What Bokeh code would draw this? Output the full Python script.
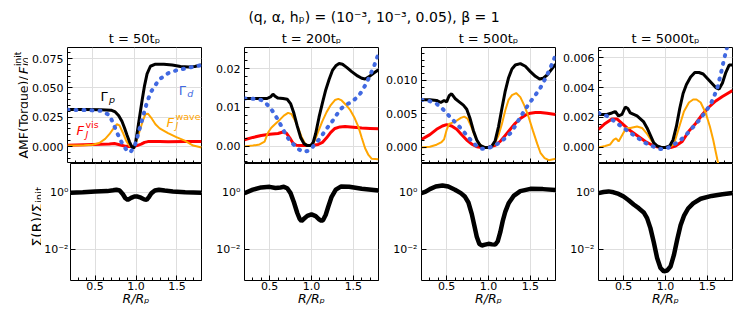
import numpy as np
from bokeh.plotting import figure
from bokeh.models import (Range1d, Label, SingleIntervalTicker, FixedTicker,
                          NumeralTickFormatter, CustomJSTickFormatter)
from bokeh.layouts import column, row
from bokeh.embed import file_html
from bokeh.resources import INLINE

FONT = "DejaVu Sans"

# ---------------- data ----------------
suptitle = "(q, \u03b1, h\u209a) = (10\u207b\u00b3, 10\u207b\u00b3, 0.05), \u03b2 = 1"
panel_titles = ["t = 50t\u209a", "t = 200t\u209a", "t = 500t\u209a", "t = 5000t\u209a"]
x_label = "R/R\u209a"

# panel 1 (t = 50 tp)
gp1_x = [0.2, 0.4, 0.6, 0.72, 0.77, 0.81, 0.85, 0.88, 0.91, 0.94, 0.97, 0.99, 1.01, 1.03, 1.06, 1.09, 1.12, 1.15, 1.19, 1.25, 1.35, 1.45, 1.55, 1.65, 1.72, 1.8]
gp1_y = [0.0315, 0.0315, 0.0313, 0.031, 0.0295, 0.0265, 0.0215, 0.016, 0.0098, 0.004, -0.0005, -0.0015, 0.002, 0.011, 0.025, 0.039, 0.052, 0.062, 0.0685, 0.0703, 0.0703, 0.0695, 0.0683, 0.0678, 0.0683, 0.0697]
gd1_x = [0.2, 0.45, 0.6, 0.65, 0.7, 0.75, 0.8, 0.85, 0.9, 0.93, 0.96, 1.0, 1.03, 1.06, 1.09, 1.15, 1.2, 1.25, 1.3, 1.4, 1.5, 1.6, 1.7, 1.8]
gd1_y = [0.0313, 0.031, 0.0305, 0.0285, 0.027, 0.019, 0.0105, 0.003, -0.0025, -0.005, -0.004, 0.0, 0.007, 0.015, 0.0225, 0.038, 0.047, 0.0525, 0.0575, 0.0625, 0.065, 0.0665, 0.068, 0.0695]
fw1_x = [0.2, 0.4, 0.5, 0.58, 0.65, 0.7, 0.75, 0.79, 0.82, 0.86, 0.9, 0.94, 0.98, 1.02, 1.06, 1.1, 1.13, 1.16, 1.2, 1.25, 1.3, 1.4, 1.5, 1.6, 1.7, 1.8]
fw1_y = [0.0008, 0.001, 0.0015, 0.003, 0.0065, 0.0105, 0.0155, 0.019, 0.018, 0.012, 0.005, 0.0005, -0.0005, 0.004, 0.013, 0.022, 0.0275, 0.028, 0.0245, 0.019, 0.0155, 0.0115, 0.008, 0.005, 0.0008, -0.0008]
fv1_x = [0.2, 0.4, 0.6, 0.7, 0.76, 0.82, 0.88, 0.93, 0.98, 1.03, 1.08, 1.12, 1.16, 1.2, 1.3, 1.4, 1.6, 1.8]
fv1_y = [0.001, 0.0015, 0.002, 0.0022, 0.0025, 0.0015, 0.0005, 0.0, 0.0, 0.0008, 0.002, 0.0035, 0.0042, 0.0043, 0.0042, 0.0041, 0.0042, 0.0043]

# panel 2 (t = 200 tp)
gp2_x = [0.2, 0.35, 0.47, 0.51, 0.54, 0.57, 0.6, 0.66, 0.71, 0.75, 0.79, 0.83, 0.87, 0.91, 0.95, 0.99, 1.02, 1.05, 1.09, 1.13, 1.17, 1.21, 1.25, 1.29, 1.33, 1.37, 1.42, 1.48, 1.55, 1.6, 1.64, 1.68, 1.74, 1.8]
gp2_y = [0.0123, 0.0123, 0.0123, 0.0127, 0.0134, 0.0128, 0.0124, 0.0123, 0.0121, 0.011, 0.0085, 0.0052, 0.0023, 0.0007, 0.0002, 0.0002, 0.001, 0.0033, 0.0075, 0.0111, 0.0145, 0.0172, 0.0195, 0.0207, 0.0213, 0.0211, 0.0203, 0.0192, 0.0181, 0.0175, 0.0173, 0.0178, 0.0188, 0.0197]
gd2_x = [0.2, 0.33, 0.4, 0.45, 0.5, 0.55, 0.6, 0.65, 0.7, 0.75, 0.8, 0.85, 0.9, 0.95, 1.0, 1.05, 1.1, 1.15, 1.2, 1.25, 1.3, 1.35, 1.4, 1.45, 1.5, 1.55, 1.6, 1.65, 1.7, 1.75, 1.8]
gd2_y = [0.0123, 0.0122, 0.0119, 0.0112, 0.0101, 0.0086, 0.0068, 0.0048, 0.0027, 0.0012, 0.0002, -0.0008, -0.0014, -0.0012, -0.0005, 0.0008, 0.002, 0.0036, 0.0051, 0.0065, 0.0081, 0.0096, 0.0106, 0.0111, 0.0118, 0.0127, 0.0141, 0.016, 0.0183, 0.0208, 0.0238]
fw2_x = [0.2, 0.3, 0.38, 0.44, 0.48, 0.52, 0.57, 0.62, 0.67, 0.72, 0.76, 0.8, 0.84, 0.88, 0.92, 0.96, 1.0, 1.04, 1.08, 1.13, 1.18, 1.23, 1.28, 1.32, 1.36, 1.41, 1.46, 1.51, 1.56, 1.6, 1.64, 1.68, 1.72, 1.8]
fw2_y = [0.0, 0.0002, 0.0005, 0.0012, 0.0035, 0.0048, 0.0058, 0.0068, 0.0079, 0.0086, 0.0083, 0.0068, 0.0048, 0.0025, 0.0008, 0.0002, 0.0002, 0.0015, 0.0038, 0.0065, 0.0088, 0.0106, 0.0119, 0.0122, 0.0118, 0.0107, 0.0094, 0.0075, 0.005, 0.0022, -0.0005, -0.0022, -0.0032, -0.0033]
fv2_x = [0.2, 0.3, 0.4, 0.5, 0.6, 0.66, 0.7, 0.74, 0.78, 0.82, 0.88, 0.95, 1.02, 1.08, 1.13, 1.18, 1.23, 1.28, 1.34, 1.4, 1.5, 1.6, 1.7, 1.8]
fv2_y = [0.0017, 0.0023, 0.0028, 0.0031, 0.0033, 0.0037, 0.0034, 0.0022, 0.0008, 0.0003, 0.0002, 0.0002, 0.0003, 0.0005, 0.001, 0.0022, 0.0036, 0.0046, 0.005, 0.0051, 0.0049, 0.0047, 0.0046, 0.0045]

# panel 3 (t = 500 tp)
gp3_x = [0.2, 0.3, 0.38, 0.43, 0.47, 0.5, 0.53, 0.56, 0.6, 0.65, 0.7, 0.74, 0.78, 0.82, 0.86, 0.9, 0.95, 1.0, 1.04, 1.08, 1.12, 1.16, 1.2, 1.24, 1.28, 1.32, 1.38, 1.44, 1.5, 1.56, 1.61, 1.65, 1.7, 1.75, 1.8]
gp3_y = [0.0071, 0.0071, 0.0070, 0.0067, 0.0070, 0.0068, 0.0077, 0.0080, 0.0073, 0.0068, 0.0063, 0.0057, 0.0043, 0.0025, 0.0011, 0.0003, 0.0, 0.0, 0.0002, 0.001, 0.0031, 0.0058, 0.0084, 0.0104, 0.0117, 0.0123, 0.0125, 0.0121, 0.0113, 0.0106, 0.0102, 0.0103, 0.0108, 0.0116, 0.0124]
gd3_x = [0.2, 0.3, 0.38, 0.44, 0.5, 0.56, 0.62, 0.68, 0.74, 0.8, 0.86, 0.92, 0.97, 1.02, 1.08, 1.14, 1.2, 1.26, 1.32, 1.38, 1.44, 1.5, 1.56, 1.62, 1.68, 1.74, 1.8]
gd3_y = [0.0071, 0.0069, 0.0065, 0.0059, 0.0051, 0.0043, 0.0035, 0.0027, 0.0018, 0.0009, 0.0002, -0.0002, -0.0002, 0.0, 0.0003, 0.0008, 0.0014, 0.0021, 0.0032, 0.0045, 0.0057, 0.0068, 0.0078, 0.0089, 0.0103, 0.0119, 0.0137]
fw3_x = [0.2, 0.3, 0.38, 0.44, 0.47, 0.5, 0.53, 0.57, 0.62, 0.67, 0.71, 0.75, 0.79, 0.83, 0.87, 0.92, 0.97, 1.02, 1.07, 1.12, 1.16, 1.2, 1.24, 1.28, 1.33, 1.38, 1.43, 1.48, 1.53, 1.58, 1.62, 1.67, 1.72, 1.8]
fw3_y = [0.0, 0.0001, 0.0004, 0.0008, 0.0012, 0.0026, 0.0035, 0.0037, 0.0040, 0.0044, 0.0046, 0.0043, 0.0032, 0.0019, 0.0008, 0.0002, 0.0, 0.0, 0.0005, 0.0018, 0.0035, 0.0055, 0.0071, 0.0078, 0.0081, 0.0075, 0.0062, 0.0045, 0.0025, 0.0006, -0.0008, -0.0016, -0.0019, -0.0017]
fv3_x = [0.2, 0.3, 0.38, 0.45, 0.5, 0.56, 0.62, 0.68, 0.74, 0.8, 0.86, 0.92, 1.0, 1.08, 1.14, 1.2, 1.26, 1.32, 1.38, 1.44, 1.5, 1.56, 1.62, 1.7, 1.8]
fv3_y = [0.0012, 0.0019, 0.0027, 0.0032, 0.0034, 0.0032, 0.0027, 0.0019, 0.0011, 0.0005, 0.0001, 0.0, 0.0, 0.0003, 0.0009, 0.0018, 0.0027, 0.0036, 0.0043, 0.0048, 0.0051, 0.0052, 0.0052, 0.0051, 0.0049]

# panel 4 (t = 5000 tp)
gp4_x = [0.2, 0.3, 0.36, 0.4, 0.44, 0.48, 0.52, 0.55, 0.58, 0.62, 0.66, 0.7, 0.74, 0.78, 0.82, 0.86, 0.9, 0.95, 1.0, 1.05, 1.09, 1.13, 1.17, 1.21, 1.25, 1.3, 1.35, 1.4, 1.45, 1.5, 1.55, 1.6, 1.64, 1.68, 1.72, 1.76, 1.8]
gp4_y = [0.0022, 0.0022, 0.0023, 0.0024, 0.0021, 0.0022, 0.0027, 0.0026, 0.0023, 0.0022, 0.0021, 0.0019, 0.0017, 0.0013, 0.0008, 0.0003, 0.0001, 0.0, 0.0, 0.0001, 0.0005, 0.0014, 0.0026, 0.0036, 0.0042, 0.0047, 0.005, 0.005, 0.0049, 0.0046, 0.0043, 0.004, 0.0039, 0.0043, 0.005, 0.0055, 0.0055]
gd4_x = [0.2, 0.3, 0.4, 0.5, 0.6, 0.68, 0.76, 0.84, 0.92, 0.98, 1.04, 1.1, 1.16, 1.24, 1.32, 1.4, 1.48, 1.54, 1.58, 1.62, 1.66, 1.7, 1.74, 1.78]
gd4_y = [0.0023, 0.0021, 0.0017, 0.0013, 0.0009, 0.0006, 0.0003, 0.0001, -0.0001, -0.0001, 0.0, 0.0002, 0.0004, 0.0008, 0.0013, 0.0018, 0.0024, 0.0029, 0.0034, 0.004, 0.0049, 0.0059, 0.0068, 0.0078]
fw4_x = [0.2, 0.28, 0.34, 0.38, 0.41, 0.44, 0.47, 0.5, 0.53, 0.58, 0.66, 0.72, 0.78, 0.84, 0.9, 0.96, 1.04, 1.1, 1.16, 1.22, 1.28, 1.33, 1.37, 1.42, 1.48, 1.53, 1.57, 1.6, 1.63, 1.66, 1.7, 1.8]
fw4_y = [0.0, 0.0001, 0.0002, 0.0005, 0.0006, 0.0004, 0.0007, 0.0010, 0.0013, 0.0013, 0.0014, 0.0013, 0.0009, 0.0004, 0.0001, 0.0, 0.0, 0.0002, 0.0013, 0.0024, 0.003, 0.0032, 0.0032, 0.003, 0.0023, 0.0014, 0.0005, -0.0003, -0.0011, -0.0019, -0.003, -0.006]
fv4_x = [0.2, 0.28, 0.36, 0.42, 0.48, 0.56, 0.66, 0.76, 0.86, 0.94, 1.0, 1.06, 1.12, 1.2, 1.28, 1.36, 1.44, 1.52, 1.6, 1.68, 1.8]
fv4_y = [0.0012, 0.0016, 0.0019, 0.0019, 0.0016, 0.0012, 0.0008, 0.0004, 0.0001, 0.0, 0.0, 0.0, 0.0001, 0.0004, 0.0011, 0.0016, 0.0022, 0.0027, 0.0031, 0.0034, 0.0038]

# surface density Sigma(R)/Sigma_init
sig1_x = [0.2, 0.35, 0.5, 0.65, 0.72, 0.76, 0.8, 0.84, 0.87, 0.9, 0.94, 0.98, 1.02, 1.06, 1.1, 1.13, 1.16, 1.19, 1.23, 1.28, 1.35, 1.45, 1.6, 1.8]
sig1_y = [0.977, 1.023, 1.084, 1.122, 1.202, 1.259, 1.175, 0.871, 0.631, 0.550, 0.646, 0.724, 0.724, 0.661, 0.575, 0.550, 0.708, 0.955, 1.175, 1.259, 1.175, 1.096, 1.023, 0.977]
sig2_x = [0.2, 0.3, 0.4, 0.5, 0.57, 0.63, 0.67, 0.71, 0.75, 0.79, 0.83, 0.86, 0.88, 0.91, 0.95, 1.0, 1.05, 1.09, 1.12, 1.14, 1.17, 1.2, 1.24, 1.29, 1.35, 1.45, 1.6, 1.8]
sig2_y = [0.955, 1.259, 1.514, 1.585, 1.445, 1.514, 1.585, 1.413, 0.955, 0.457, 0.191, 0.117, 0.100, 0.120, 0.151, 0.170, 0.148, 0.115, 0.100, 0.110, 0.166, 0.316, 0.708, 1.259, 1.622, 1.585, 1.349, 1.175]
sig3_x = [0.2, 0.25, 0.3, 0.37, 0.45, 0.52, 0.6, 0.67, 0.72, 0.76, 0.8, 0.83, 0.86, 0.89, 0.92, 0.96, 1.0, 1.04, 1.08, 1.11, 1.14, 1.17, 1.2, 1.24, 1.3, 1.38, 1.5, 1.65, 1.8]
sig3_y = [0.955, 1.072, 1.318, 1.622, 1.778, 1.622, 1.259, 0.955, 0.708, 0.447, 0.178, 0.0708, 0.0282, 0.0158, 0.0138, 0.0148, 0.0158, 0.0151, 0.0148, 0.0191, 0.0398, 0.1, 0.209, 0.417, 0.759, 1.122, 1.349, 1.318, 1.230]
sig4_x = [0.2, 0.26, 0.32, 0.38, 0.44, 0.5, 0.56, 0.62, 0.68, 0.74, 0.78, 0.82, 0.86, 0.9, 0.94, 0.98, 1.02, 1.06, 1.1, 1.14, 1.18, 1.22, 1.27, 1.33, 1.42, 1.55, 1.68, 1.8]
sig4_y = [0.955, 1.047, 1.096, 1.023, 0.891, 0.724, 0.537, 0.380, 0.282, 0.200, 0.126, 0.0562, 0.0178, 0.00501, 0.00224, 0.0017, 0.00182, 0.00251, 0.00631, 0.0224, 0.0708, 0.151, 0.275, 0.417, 0.603, 0.759, 0.871, 0.955]

# axis ranges / ticks per panel
top_ranges = [(-0.0145, 0.0845), (-0.0044, 0.0254), (-0.0024, 0.0149), (-0.00107, 0.00667)]
top_intervals = [0.025, 0.01, 0.005, 0.002]
top_minor = [5, 5, 5, 4]
top_formats = ["0.000", "0.00", "0.000", "0.000"]

curves = [
    (gp1_x, gp1_y, gd1_x, gd1_y, fw1_x, fw1_y, fv1_x, fv1_y, sig1_x, sig1_y),
    (gp2_x, gp2_y, gd2_x, gd2_y, fw2_x, fw2_y, fv2_x, fv2_y, sig2_x, sig2_y),
    (gp3_x, gp3_y, gd3_x, gd3_y, fw3_x, fw3_y, fv3_x, fv3_y, sig3_x, sig3_y),
    (gp4_x, gp4_y, gd4_x, gd4_y, fw4_x, fw4_y, fv4_x, fv4_y, sig4_x, sig4_y),
]

# ---------------- layout geometry (page has no margin) ----------------
FRAME_W = 134
HEAD_H, TOP_H, BOT_H = 46, 117, 149
YLAB_TOP_W, YLAB_BOT_W = 28, 41
lefts_top = [39, 40, 40, 40]
lefts_bot = [26, 40, 40, 40]
rights = [3, 3, 3, 15]
BLUE, ORANGE, RED = "#4169e1", "#ffa500", "#ff0000"
GRID = "#dedede"


def lab(p, x, y, text, size, color="black", style="normal", angle=0.0,
        units="data", align="left", baseline="alphabetic", xo=0, yo=0):
    p.add_layout(Label(x=x, y=y, x_units=units, y_units=units, text=text,
                       text_font=FONT, text_font_size=f"{size}px",
                       text_color=color, text_font_style=style, angle=angle,
                       text_align=align, text_baseline=baseline,
                       x_offset=xo, y_offset=yo))


def blank(width, height):
    f = figure(width=width, height=height, output_backend="svg", toolbar_location=None,
               x_range=Range1d(0, 1), y_range=Range1d(0, 1),
               x_axis_location=None, y_axis_location=None,
               min_border_left=0, min_border_right=0, min_border_top=0, min_border_bottom=0)
    f.outline_line_color = None
    f.grid.visible = False
    f.background_fill_color = "white"
    f.border_fill_color = "white"
    return f


def style_axes(p):
    p.outline_line_color = "black"
    p.outline_line_width = 1
    p.background_fill_color = "white"
    p.border_fill_color = "white"
    for ax in p.axis:
        ax.axis_line_color = None
        ax.major_tick_in = 5
        ax.major_tick_out = 0
        ax.minor_tick_in = 3
        ax.minor_tick_out = 0
        ax.major_tick_line_color = "black"
        ax.minor_tick_line_color = "black"
        ax.major_label_text_font = FONT
        ax.major_label_text_font_size = "11px"
        ax.major_label_text_color = "black"
        ax.major_label_text_font_style = "normal"
    p.grid.grid_line_color = GRID
    p.grid.grid_line_width = 1


cols = []
for i in range(4):
    gpx, gpy, gdx, gdy, fwx, fwy, fvx, fvy, sx, sy = curves[i]
    # ---- top (torque) panel
    t = figure(width=lefts_top[i] + FRAME_W + rights[i], height=TOP_H,
               output_backend="svg", toolbar_location=None,
               x_range=Range1d(0.2, 1.8), y_range=Range1d(*top_ranges[i]),
               min_border_left=lefts_top[i], min_border_right=rights[i],
               min_border_top=1, min_border_bottom=0)
    style_axes(t)
    xt = SingleIntervalTicker(interval=0.5, num_minor_ticks=5)
    t.xaxis.ticker = xt
    t.xgrid.ticker = xt
    t.xaxis.formatter = CustomJSTickFormatter(code="return '';")
    t.xaxis.major_label_text_font_size = "0px"
    t.xaxis.major_label_standoff = 0
    yt = SingleIntervalTicker(interval=top_intervals[i], num_minor_ticks=top_minor[i])
    t.yaxis.ticker = yt
    t.ygrid.ticker = yt
    t.yaxis.formatter = NumeralTickFormatter(format=top_formats[i])
    t.yaxis.major_label_standoff = 4
    t.line(fvx, fvy, line_color=RED, line_width=3)
    t.line(fwx, fwy, line_color=ORANGE, line_width=2)
    t.line(gpx, gpy, line_color="black", line_width=3)
    t.line(gdx, gdy, line_color=BLUE, line_width=4, line_dash="1 7", line_cap="round")

    # ---- bottom (surface density) panel
    b = figure(width=lefts_bot[i] + FRAME_W + rights[i], height=BOT_H,
               output_backend="svg", toolbar_location=None,
               x_range=Range1d(0.2, 1.8), y_range=Range1d(10 ** -3.09, 10 ** 1.02),
               y_axis_type="log",
               min_border_left=lefts_bot[i], min_border_right=rights[i],
               min_border_top=0, min_border_bottom=32)
    style_axes(b)
    xb = SingleIntervalTicker(interval=0.5, num_minor_ticks=5)
    b.xaxis.ticker = xb
    b.xgrid.ticker = xb
    b.xaxis.formatter = NumeralTickFormatter(format="0.0")
    b.xaxis.major_label_standoff = 1
    b.xaxis.axis_label = x_label
    b.xaxis.axis_label_text_font = FONT
    b.xaxis.axis_label_text_font_size = "12.5px"
    b.xaxis.axis_label_text_font_style = "italic"
    b.xaxis.axis_label_text_color = "black"
    b.xaxis.axis_label_standoff = -2
    yb = FixedTicker(ticks=[0.01, 1.0], minor_ticks=[])
    b.yaxis.ticker = yb
    b.ygrid.ticker = yb
    b.yaxis.formatter = CustomJSTickFormatter(
        code="return tick > 0.1 ? '10\u2070' : '10\u207b\u00b2';")
    b.yaxis.major_label_standoff = 2 if i == 0 else 4
    b.line(sx, sy, line_color="black", line_width=4.5)

    if i == 0:
        # in-panel curve annotations
        lab(t, 0.594, 0.0425, "\u0393", 13)
        lab(t, 0.594, 0.0425, "p", 9.5, style="italic", xo=8.5, yo=-3)
        lab(t, 1.529, 0.048, "\u0393", 13, color=BLUE)
        lab(t, 1.529, 0.048, "d", 9.5, color=BLUE, style="italic", xo=8.5, yo=-3)
        lab(t, 0.307, 0.0133, "F", 13, color=RED, style="italic")
        lab(t, 0.307, 0.0133, "J", 9.5, color=RED, style="italic", xo=9, yo=-3.5)
        lab(t, 0.307, 0.0133, "vis", 9.5, color=RED, xo=9, yo=6)
        lab(t, 1.382, 0.0209, "F", 13, color=ORANGE, style="italic")
        lab(t, 1.382, 0.0209, "J", 9.5, color=ORANGE, style="italic", xo=9, yo=-3.5)
        lab(t, 1.382, 0.0209, "wave", 9.5, color=ORANGE, xo=9, yo=6)

        # rotated y-axis labels, composed so sub/superscripts stay real text
        # (label strips are frame-aligned with the neighbouring panel)
        a = np.pi / 2
        yl_t = blank(YLAB_TOP_W, TOP_H)
        y0, xb0 = 5.0, 23
        lab(yl_t, xb0, y0, "AMF(Torque)/", 12.5, angle=a, units="screen")
        lab(yl_t, xb0, y0 + 84.5, "F", 12.5, style="italic", angle=a, units="screen")
        lab(yl_t, xb0 + 3.5, y0 + 92.5, "J0", 9, style="italic", angle=a, units="screen")
        lab(yl_t, xb0 - 5.5, y0 + 92.5, "init", 9, angle=a, units="screen")

        yl_b = blank(YLAB_BOT_W, BOT_H)
        y1, xb1 = 34, 36
        lab(yl_b, xb1, y1, "\u03a3(R)/\u03a3", 14, angle=a, units="screen")
        lab(yl_b, xb1 + 3, y1 + 43.5, "init", 10, angle=a, units="screen")

        cols.append(column(row(yl_t, t), row(yl_b, b)))
    else:
        cols.append(column(t, b))

# header with figure title and panel titles
total_w = YLAB_TOP_W + sum(lefts_top) + 4 * FRAME_W + sum(rights)
head = blank(total_w, HEAD_H)
lab(head, total_w / 2, HEAD_H - 16, suptitle, 14, units="screen", align="center", baseline="middle")
xpos = YLAB_TOP_W
for i in range(4):
    cx = xpos + lefts_top[i] + FRAME_W / 2
    lab(head, cx, HEAD_H - 38, panel_titles[i], 13, units="screen", align="center", baseline="middle")
    xpos += lefts_top[i] + FRAME_W + rights[i]

layout = column(head, row(*cols))
open("out.html", "w").write(file_html(layout, INLINE, title="torque"))
